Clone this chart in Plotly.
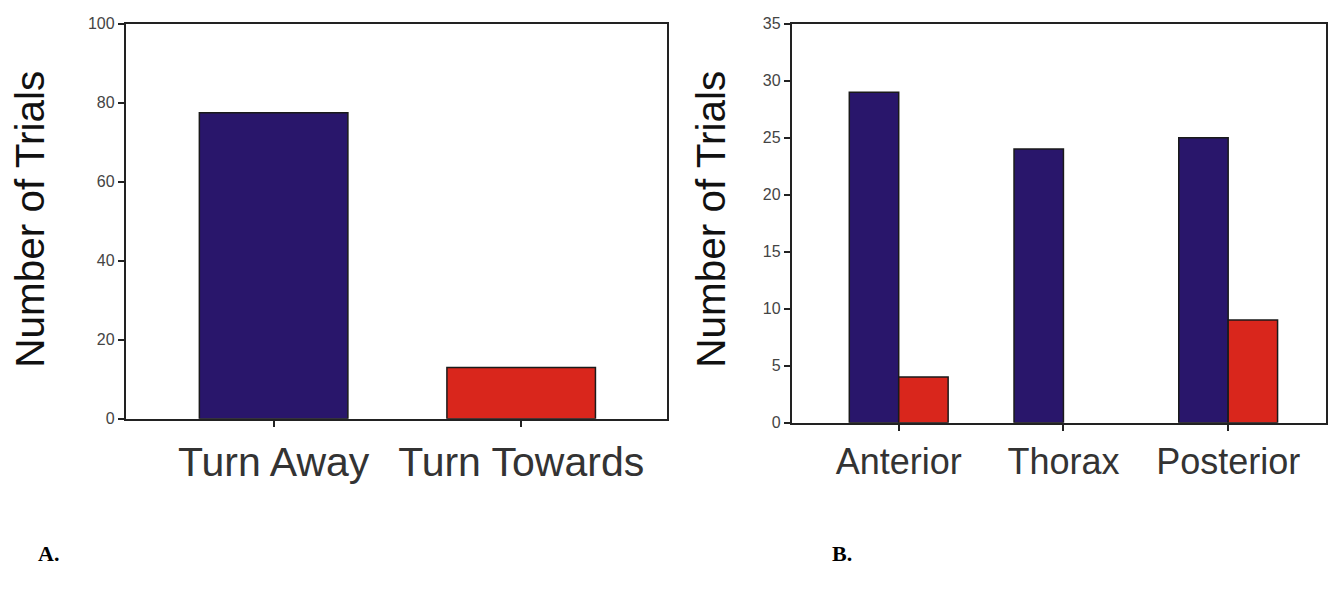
import plotly.graph_objects as go

# Panel A data
a_categories = ["Turn Away", "Turn Towards"]
a_values = [77.5, 13]
a_colors = ["#29166b", "#d9261c"]

# Panel B data
b_categories = ["Anterior", "Thorax", "Posterior"]
b_away = [29, 24, 25]
b_towards = [4, 0, 9]

a_yticks = [0, 20, 40, 60, 80, 100]
b_yticks = [0, 5, 10, 15, 20, 25, 30, 35]

BLUE = "#29166b"
RED = "#d9261c"
FONT = "Liberation Sans, Arial, sans-serif"
PAGE_MARGIN = 8
W, H = 1336 - 2 * PAGE_MARGIN, 592 - 2 * PAGE_MARGIN

def px(x):
    return min(1.0, max(0.0, (x - PAGE_MARGIN) / W))

def py(y):
    return min(1.0, max(0.0, 1 - (y - PAGE_MARGIN) / H))

fig = go.Figure()

fig.add_trace(go.Bar(
    x=a_categories, y=a_values, marker=dict(color=a_colors, line=dict(color="#1a1a1a", width=1.5)),
    xaxis="x", yaxis="y", showlegend=False, hoverinfo="x+y"))

fig.add_trace(go.Bar(
    x=b_categories, y=b_away, marker=dict(color=BLUE, line=dict(color="#1a1a1a", width=1.5)),
    xaxis="x2", yaxis="y2", showlegend=False, name="Turn Away"))
fig.add_trace(go.Bar(
    x=b_categories, y=b_towards,
    marker=dict(color=RED, line=dict(color="#1a1a1a", width=[1.5 if v > 0 else 0 for v in b_towards])),
    xaxis="x2", yaxis="y2", showlegend=False, name="Turn Towards"))

axis_common = dict(showline=True, linecolor="#222", linewidth=2, mirror=True,
                   showgrid=False, zeroline=False, ticks="outside", ticklen=6,
                   tickcolor="#222", tickwidth=1.5)

fig.update_layout(
    width=W, height=H,
    margin=dict(l=0, r=0, t=0, b=0),
    paper_bgcolor="white", plot_bgcolor="white",
    barmode="group", bargap=0.4, bargroupgap=0,
    xaxis=dict(domain=[px(126), px(668)], range=[-0.597, 1.589], anchor="y",
               tickfont=dict(family=FONT, size=41, color="#333"), **axis_common),
    yaxis=dict(domain=[py(423), py(16)], range=[0, 100], anchor="x",
               tickvals=a_yticks, tickfont=dict(family=FONT, size=16, color="#444"),
               ticklabeloverflow="allow", **axis_common),
    xaxis2=dict(domain=[px(793), px(1328)], range=[-0.649, 2.594], anchor="y2",
                tickfont=dict(family=FONT, size=36, color="#333"), **axis_common),
    yaxis2=dict(domain=[py(427), py(16)], range=[0, 35], anchor="x2",
                tickvals=b_yticks, tickfont=dict(family=FONT, size=16, color="#444"),
                ticklabeloverflow="allow", **axis_common),
    annotations=[
        dict(text="Number of Trials", x=px(30), y=py(217), xref="paper", yref="paper",
             textangle=-90, showarrow=False, font=dict(family=FONT, size=40.5, color="#111"),
             xanchor="center", yanchor="middle"),
        dict(text="Number of Trials", x=px(712), y=py(217), xref="paper", yref="paper",
             textangle=-90, showarrow=False, font=dict(family=FONT, size=40.5, color="#111"),
             xanchor="center", yanchor="middle"),
        dict(text="<b>A.</b>", x=px(36), y=py(562), xref="paper", yref="paper",
             showarrow=False, font=dict(family="Liberation Serif, Times New Roman, serif", size=22, color="#000"),
             xanchor="left", yanchor="middle"),
        dict(text="<b>B.</b>", x=px(831), y=py(562), xref="paper", yref="paper",
             showarrow=False, font=dict(family="Liberation Serif, Times New Roman, serif", size=22, color="#000"),
             xanchor="left", yanchor="middle"),
    ],
)

fig.write_html("out.html")
